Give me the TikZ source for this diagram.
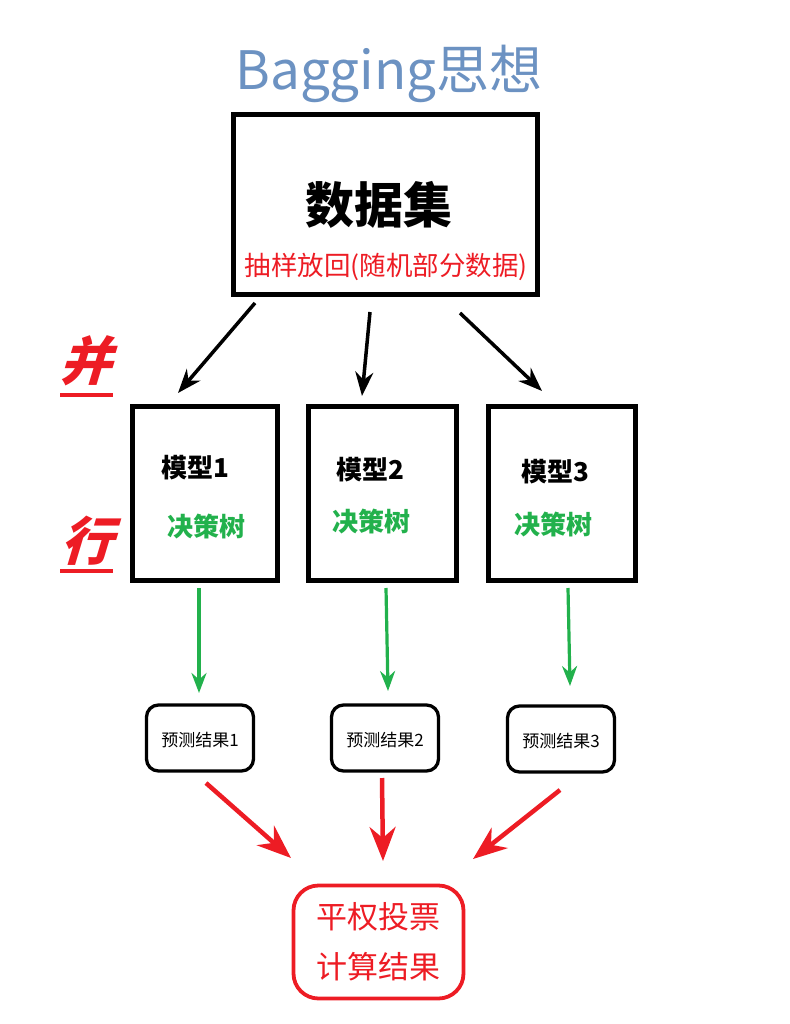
\documentclass[tikz,border=0pt]{standalone}
\usepackage{fontspec}
\setmainfont{Noto Sans CJK SC}
\newfontfamily\slantfont[FakeSlant=0.3]{Noto Sans CJK SC}
\usetikzlibrary{arrows.meta}
\definecolor{titleblue}{RGB}{108,146,194}
\definecolor{paintred}{RGB}{237,28,36}
\definecolor{paintgreen}{RGB}{34,177,76}

\begin{document}
\begin{tikzpicture}[x=1pt, y=-1pt,
		modelbox/.style={draw, line width=5.5pt, minimum width=145pt, minimum height=174pt},
		resbox/.style={draw, line width=3.3pt, rounded corners=12pt, minimum width=107pt, minimum height=66pt, font=\fontsize{17}{20}\selectfont},
		blackarrow/.style={line width=3.5pt, -{Stealth[length=24pt, width=18pt]}},
		greenarrow/.style={paintgreen, line width=3.2pt, -{Stealth[length=20pt, width=15pt]}},
		redarrow/.style={paintred, line width=4.5pt, -{Stealth[length=34pt, width=26pt]}},
		modelname/.style={font=\fontsize{26}{30}\selectfont\bfseries},
		treename/.style={text=paintgreen, font=\fontsize{26}{30}\selectfont\bfseries},
		bigred/.style={text=paintred, font=\fontsize{52}{60}\slantfont\bfseries}]
		\useasboundingbox (0, 0) rectangle (789, 1024);

		% titolo e dataset
		\node[text=titleblue, font=\fontsize{53}{62}\selectfont] (title) at (389, 74) {Bagging思想};
		\node[draw, line width=5.5pt, minimum width=304pt, minimum height=180pt] (data) at (385.5, 204.5) {};
		\node[font=\fontsize{49}{56}\selectfont\bfseries] (datatext) at (379, 205) {数据集};
		\node[text=paintred, font=\fontsize{26.5}{30}\selectfont] (sampling) at (386, 267) {抽样放回(随机部分数据)};

		% modelli
		\node[modelbox] (m1) at (205, 493.5) {};
		\node[modelbox, minimum width=148pt] (m2) at (382.5, 493.5) {};
		\node[modelbox, minimum width=147pt] (m3) at (562, 493.5) {};
		\node[modelname] (m1name) at (195, 468) {模型1};
		\node[modelname] (m2name) at (370, 470) {模型2};
		\node[modelname] (m3name) at (555, 472) {模型3};
		\node[treename] (m1tree) at (206, 527) {决策树};
		\node[treename] (m2tree) at (371, 522) {决策树};
		\node[treename] (m3tree) at (553, 525) {决策树};

		% risultati
		\node[resbox, text height=18pt] (r1) at (200, 738) {预测结果1};
		\node[resbox, text height=18pt] (r2) at (385, 738) {预测结果2};
		\node[resbox, text height=18pt] (r3) at (561, 739) {预测结果3};
		\node[draw=paintred, text=paintred, line width=3.8pt, rounded corners=25pt, minimum width=170pt, minimum height=113pt,
			align=center, font=\fontsize{31}{50}\selectfont] (vote) at (378.5, 942) {平权投票\\计算结果};

		% 并行
		\node[bigred] (bing) at (85, 361) {并};
		\node[bigred] (xing) at (86, 541) {行};
		\coordinate (u1a) at (60, 395);
		\coordinate (u1b) at (113, 395);
		\coordinate (u2a) at (60, 571);
		\coordinate (u2b) at (113, 571);
		\draw[paintred, line width=4pt] (u1a) -- (u1b);
		\draw[paintred, line width=4pt] (u2a) -- (u2b);

		% frecce
		\coordinate (a1s) at (255, 303);
		\coordinate (a1e) at (178, 393);
		\coordinate (a2s) at (370, 312);
		\coordinate (a2e) at (362, 396);
		\coordinate (a3s) at (460, 313);
		\coordinate (a3e) at (542, 391);
		\draw[blackarrow] (a1s) -- (a1e);
		\draw[blackarrow] (a2s) -- (a2e);
		\draw[blackarrow] (a3s) -- (a3e);

		\coordinate (g1s) at (199, 588);
		\coordinate (g1e) at (199, 693);
		\coordinate (g2s) at (386, 588);
		\coordinate (g2e) at (388, 691);
		\coordinate (g3s) at (568, 588);
		\coordinate (g3e) at (570, 686);
		\draw[greenarrow] (g1s) -- (g1e);
		\draw[greenarrow] (g2s) -- (g2e);
		\draw[greenarrow] (g3s) -- (g3e);

		\coordinate (v1s) at (206, 783);
		\coordinate (v1e) at (291, 858);
		\coordinate (v2s) at (382, 778);
		\coordinate (v2e) at (383, 861);
		\coordinate (v3s) at (560, 790);
		\coordinate (v3e) at (473, 859);
		\draw[redarrow] (v1s) -- (v1e);
		\draw[redarrow] (v2s) -- (v2e);
		\draw[redarrow] (v3s) -- (v3e);
	\end{tikzpicture}
\end{document}
